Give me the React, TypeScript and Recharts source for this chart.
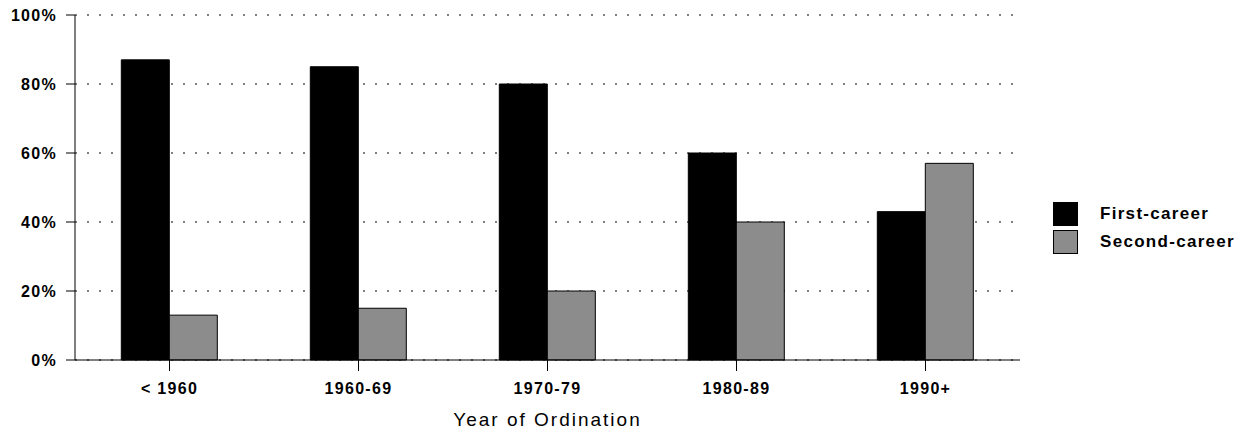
import React from 'react';
import { BarChart, Bar, XAxis, YAxis, CartesianGrid, Legend } from 'recharts';

const periods = ['< 1960', '1960-69', '1970-79', '1980-89', '1990+'];
const firstCareer = [87, 85, 80, 60, 43];
const secondCareer = [13, 15, 20, 40, 57];
const yTicks = [0, 20, 40, 60, 80, 100];

const data = periods.map((period, i) => ({
  period,
  first: firstCareer[i],
  second: secondCareer[i],
}));

const FONT = '"Liberation Sans", Arial, sans-serif';

function PercentTick(props: any) {
  const { x, y, payload } = props;
  return (
    <text
      x={x}
      y={y}
      dy="0.36em"
      textAnchor="end"
      fill="#000"
      fontSize={16}
      fontWeight={700}
      fontFamily={FONT}
      letterSpacing={1.3}
    >
      {`${payload.value}%`}
    </text>
  );
}

function CareerLegend(props: any) {
  const items = props.payload || [];
  return (
    <div style={{ fontFamily: FONT }}>
      {items.map((item: any) => (
        <div key={item.value} style={{ display: 'flex', alignItems: 'center', height: 24, marginBottom: 4 }}>
          <div
            style={{
              width: 23,
              height: 22,
              background: item.color,
              border: '1px solid #000',
              marginRight: 22,
            }}
          />
          <span style={{ fontSize: 17, fontWeight: 700, letterSpacing: 1.3, color: '#000' }}>{item.value}</span>
        </div>
      ))}
    </div>
  );
}

export default function App() {
  return (
    <div style={{ position: 'absolute', left: 0, top: 0, width: 1248, height: 432, background: '#fff' }}>
      <BarChart
        width={1248}
        height={432}
        data={data}
        margin={{ top: 15, right: 228, left: 0, bottom: 0 }}
        barCategoryGap="24.5%"
        barGap={0}
      >
        <CartesianGrid vertical={false} stroke="#000" strokeDasharray="2 10" />
        <XAxis
          dataKey="period"
          height={72}
          axisLine={{ stroke: '#000' }}
          tickLine={{ stroke: '#000' }}
          tickSize={11}
          tickMargin={12}
          tick={{ fill: '#000', fontSize: 16, fontWeight: 700, fontFamily: FONT, letterSpacing: 1.3 }}
          label={{
            value: 'Year of Ordination',
            position: 'insideBottom',
            offset: 6,
            fill: '#000',
            fontSize: 19,
            fontFamily: FONT,
            letterSpacing: 2,
          }}
        />
        <YAxis
          width={75}
          domain={[0, 100]}
          ticks={yTicks}
          axisLine={{ stroke: '#000' }}
          tickLine={{ stroke: '#000' }}
          tickSize={9}
          tickMargin={9}
          tick={<PercentTick />}
        />
        <Legend
          layout="vertical"
          align="center"
          verticalAlign="middle"
          content={<CareerLegend />}
          wrapperStyle={{ left: 1053, top: 202, width: 195 }}
        />
        <Bar dataKey="first" name="First-career" fill="#000" stroke="#000" isAnimationActive={false} />
        <Bar dataKey="second" name="Second-career" fill="#8c8c8c" stroke="#000" isAnimationActive={false} />
      </BarChart>
    </div>
  );
}
